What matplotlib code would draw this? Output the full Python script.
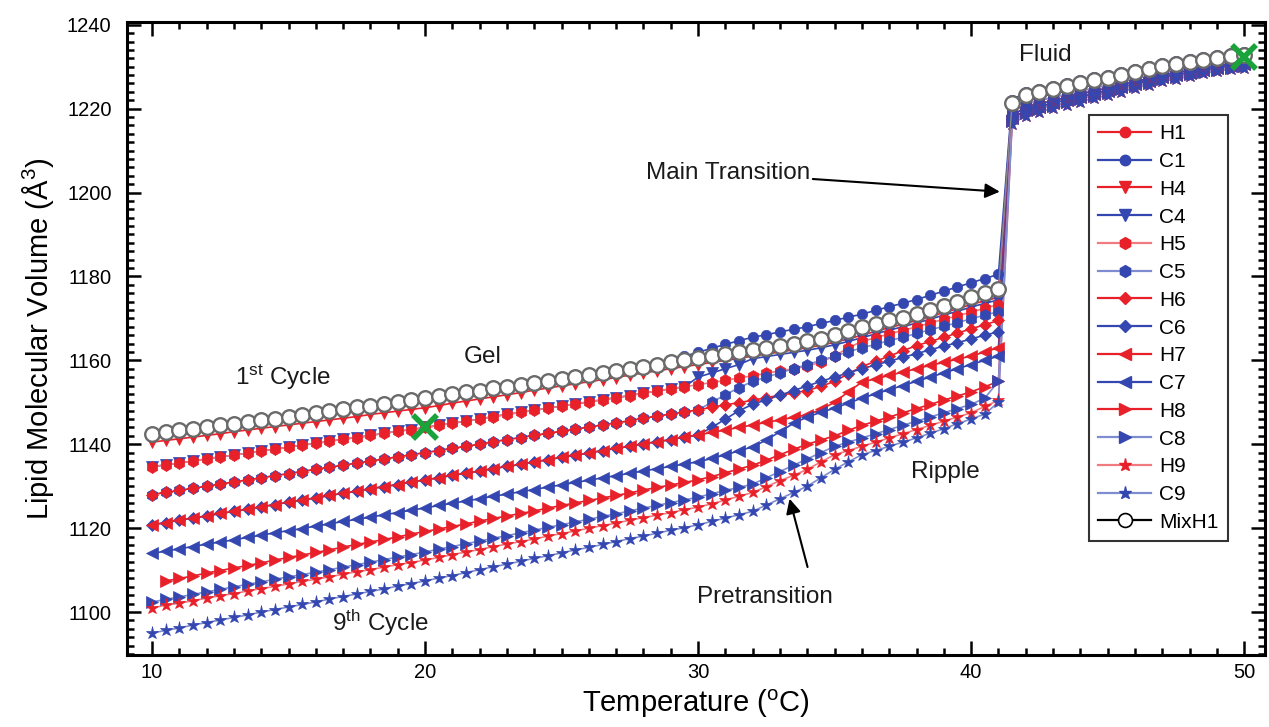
import matplotlib
matplotlib.use("Agg")
import matplotlib.pyplot as plt
from matplotlib.lines import Line2D

plt.rcParams['font.family'] = ['Liberation Sans', 'DejaVu Sans']
plt.rcParams['mathtext.fontset'] = 'custom'
plt.rcParams['mathtext.rm'] = 'Liberation Sans'
plt.rcParams['mathtext.it'] = 'Liberation Sans:italic'

# ---------------- data ----------------
gel_T = [10.0, 10.5, 11.0, 11.5, 12.0, 12.5, 13.0, 13.5, 14.0, 14.5, 15.0,
         15.5, 16.0, 16.5, 17.0, 17.5, 18.0, 18.5, 19.0, 19.5, 20.0,
         20.5, 21.0, 21.5, 22.0, 22.5, 23.0, 23.5, 24.0, 24.5, 25.0,
         25.5, 26.0, 26.5, 27.0, 27.5, 28.0, 28.5, 29.0, 29.5, 30.0,
         30.5, 31.0, 31.5, 32.0, 32.5, 33.0, 33.5, 34.0, 34.5, 35.0,
         35.5, 36.0, 36.5, 37.0, 37.5, 38.0, 38.5, 39.0, 39.5, 40.0, 40.5, 41.0]
fluid_T = [41.5, 42.0, 42.5, 43.0, 43.5, 44.0, 44.5, 45.0, 45.5, 46.0,
           46.5, 47.0, 47.5, 48.0, 48.5, 49.0, 49.5, 50.0]

mix_gel = [1142.5, 1142.9, 1143.3, 1143.7, 1144.1, 1144.5, 1144.9, 1145.3, 1145.7, 1146.1, 1146.5,
           1147.0, 1147.4, 1147.9, 1148.3, 1148.8, 1149.2, 1149.7, 1150.1, 1150.6, 1151.0,
           1151.5, 1151.9, 1152.4, 1152.8, 1153.3, 1153.7, 1154.2, 1154.6, 1155.1, 1155.5,
           1156.0, 1156.5, 1157.0, 1157.5, 1158.0, 1158.5, 1159.0, 1159.5, 1160.0, 1160.5,
           1161.0, 1161.5, 1162.0, 1162.5, 1163.0, 1163.5, 1164.0, 1164.5, 1165.2, 1166.0,
           1167.1, 1168.0, 1168.7, 1169.5, 1170.2, 1171.0, 1172.0, 1173.0, 1174.0, 1175.0, 1176.0, 1177.0]
mix_fluid = [1221.4, 1223.2, 1224.0, 1224.7, 1225.4, 1226.1, 1226.8, 1227.4, 1228.1, 1228.8,
             1229.5, 1230.2, 1230.7, 1231.2, 1231.7, 1232.1, 1232.5, 1232.8]

h1_gel = [1142.3, 1142.7, 1143.1, 1143.5, 1143.9, 1144.3, 1144.7, 1145.1, 1145.5, 1145.9, 1146.3,
          1146.8, 1147.2, 1147.7, 1148.1, 1148.6, 1149.0, 1149.5, 1149.9, 1150.4, 1150.8,
          1151.3, 1151.7, 1152.2, 1152.6, 1153.1, 1153.5, 1154.0, 1154.4, 1154.9, 1155.3,
          1155.8, 1156.3, 1156.8, 1157.3, 1157.8, 1158.3, 1158.8, 1159.3, 1159.8, 1160.3,
          1160.8, 1161.3, 1161.8, 1162.3, 1162.8, 1163.3, 1163.8, 1164.3, 1165.0, 1165.8,
          1166.9, 1167.8, 1168.5, 1169.3, 1170.0, 1170.8, 1171.8, 1172.8, 1173.8, 1174.8, 1175.8, 1176.8]
h1_fluid = [1221.2, 1223.0, 1223.8, 1224.5, 1225.2, 1225.9, 1226.6, 1227.2, 1227.9, 1228.6,
            1229.3, 1230.0, 1230.5, 1231.0, 1231.5, 1231.9, 1232.3, 1232.6]

c1_gel = [1142.5, 1142.9, 1143.3, 1143.7, 1144.1, 1144.5, 1144.9, 1145.3, 1145.7, 1146.1, 1146.5,
          1147.0, 1147.4, 1147.9, 1148.3, 1148.8, 1149.2, 1149.7, 1150.1, 1150.6, 1151.0,
          1151.5, 1151.9, 1152.4, 1152.8, 1153.3, 1153.7, 1154.2, 1154.6, 1155.1, 1155.5,
          1156.0, 1156.5, 1157.0, 1157.5, 1158.0, 1158.5, 1159.3, 1160.0, 1161.0, 1161.9,
          1162.9, 1163.8, 1164.7, 1165.5, 1166.1, 1166.8, 1167.4, 1168.0, 1168.8, 1169.5,
          1170.3, 1171.0, 1171.9, 1172.8, 1173.6, 1174.5, 1175.5, 1176.5, 1177.5, 1178.5, 1179.5, 1180.5]
c1_fluid = [1222.1, 1223.9, 1224.7, 1225.4, 1226.1, 1226.8, 1227.5, 1228.1, 1228.8, 1229.5,
            1230.2, 1230.9, 1231.4, 1231.9, 1232.4, 1232.8, 1233.2, 1233.5]

h4_gel = [1140.5, 1140.9, 1141.3, 1141.7, 1142.1, 1142.5, 1143.0, 1143.4, 1143.8, 1144.2, 1144.6,
          1145.0, 1145.4, 1145.8, 1146.2, 1146.6, 1147.1, 1147.5, 1147.9, 1148.3, 1148.7,
          1149.2, 1149.8, 1150.3, 1150.8, 1151.3, 1151.8, 1152.3, 1152.9, 1153.4, 1153.9,
          1154.4, 1154.9, 1155.4, 1155.9, 1156.5, 1157.0, 1157.5, 1158.0, 1158.5, 1159.0,
          1159.5, 1160.0, 1160.5, 1161.0, 1161.5, 1162.0, 1162.5, 1163.0, 1163.6, 1164.3,
          1165.1, 1166.0, 1166.9, 1167.8, 1168.6, 1169.5, 1170.4, 1171.4, 1172.3, 1173.3, 1174.2, 1175.0]
c4_gel = [1134.6, 1135.1, 1135.5, 1136.0, 1136.5, 1137.0, 1137.4, 1137.9, 1138.4, 1138.8, 1139.3,
          1139.8, 1140.2, 1140.7, 1141.2, 1141.6, 1142.1, 1142.6, 1143.1, 1143.5, 1144.0,
          1144.5, 1145.0, 1145.5, 1146.0, 1146.6, 1147.1, 1147.6, 1148.1, 1148.6, 1149.1,
          1149.6, 1150.1, 1150.6, 1151.1, 1151.6, 1152.2, 1152.7, 1153.2, 1153.7, 1156.0,
          1157.0, 1158.0, 1159.0, 1160.4, 1160.9, 1161.4, 1161.9, 1162.4, 1163.0, 1163.7,
          1164.5, 1165.4, 1166.3, 1167.2, 1168.0, 1168.9, 1169.8, 1170.8, 1171.7, 1172.7, 1173.6, 1174.4]
f4_fluid = [1220.1, 1221.9, 1222.8, 1223.5, 1224.2, 1225.0, 1225.7, 1226.3, 1227.0, 1227.8,
            1228.5, 1229.2, 1229.8, 1230.3, 1230.8, 1231.2, 1231.7, 1232.0]

h5_gel = [1134.6, 1135.1, 1135.5, 1136.0, 1136.5, 1137.0, 1137.4, 1137.9, 1138.4, 1138.8, 1139.3,
          1139.8, 1140.2, 1140.7, 1141.2, 1141.6, 1142.1, 1142.6, 1143.1, 1143.5, 1144.0,
          1144.5, 1145.0, 1145.5, 1146.0, 1146.6, 1147.1, 1147.6, 1148.1, 1148.6, 1149.1,
          1149.6, 1150.1, 1150.6, 1151.1, 1151.6, 1152.2, 1152.7, 1153.2, 1153.7, 1154.2,
          1154.7, 1155.2, 1155.8, 1156.3, 1156.9, 1157.5, 1158.0, 1158.6, 1159.6, 1161.0,
          1163.0, 1164.5, 1165.4, 1166.3, 1167.1, 1168.0, 1168.9, 1169.8, 1170.6, 1171.5, 1172.4, 1173.3]
c5_gel = [1128.0, 1128.5, 1129.0, 1129.5, 1130.0, 1130.5, 1131.0, 1131.5, 1132.0, 1132.5, 1133.0,
          1133.5, 1134.0, 1134.5, 1135.0, 1135.5, 1136.0, 1136.5, 1137.0, 1137.5, 1138.0,
          1138.5, 1139.0, 1139.5, 1140.0, 1140.6, 1141.1, 1141.6, 1142.1, 1142.6, 1143.1,
          1143.6, 1144.1, 1144.6, 1145.1, 1145.6, 1146.2, 1146.7, 1147.2, 1147.7, 1148.2,
          1150.0, 1151.8, 1153.5, 1155.0, 1156.0, 1157.0, 1158.0, 1159.0, 1160.0, 1161.0,
          1162.0, 1163.0, 1163.8, 1164.7, 1165.5, 1166.4, 1167.3, 1168.1, 1169.0, 1169.9, 1170.8, 1171.6]
f5_fluid = [1219.2, 1221.1, 1221.9, 1222.7, 1223.4, 1224.2, 1224.9, 1225.6, 1226.3, 1227.1,
            1227.8, 1228.6, 1229.1, 1229.7, 1230.2, 1230.7, 1231.1, 1231.5]

h6_gel = [1128.0, 1128.5, 1129.0, 1129.5, 1130.0, 1130.5, 1131.0, 1131.5, 1132.0, 1132.5, 1133.0,
          1133.5, 1134.0, 1134.5, 1135.0, 1135.5, 1136.0, 1136.5, 1137.0, 1137.5, 1138.0,
          1138.5, 1139.0, 1139.5, 1140.0, 1140.6, 1141.1, 1141.6, 1142.1, 1142.6, 1143.1,
          1143.6, 1144.1, 1144.6, 1145.1, 1145.6, 1146.2, 1146.7, 1147.2, 1147.7, 1148.2,
          1148.8, 1149.4, 1149.9, 1150.5, 1151.1, 1151.7, 1152.2, 1152.8, 1153.8, 1155.0,
          1156.8, 1158.5, 1159.8, 1161.0, 1162.3, 1163.5, 1164.5, 1165.5, 1166.5, 1167.5, 1168.5, 1169.5]
c6_gel = [1120.8, 1121.3, 1121.9, 1122.4, 1122.9, 1123.5, 1124.0, 1124.5, 1125.1, 1125.6, 1126.2,
          1126.7, 1127.2, 1127.8, 1128.3, 1128.8, 1129.4, 1129.9, 1130.4, 1131.0, 1131.5,
          1132.0, 1132.6, 1133.1, 1133.6, 1134.2, 1134.7, 1135.2, 1135.8, 1136.3, 1136.9,
          1137.4, 1137.9, 1138.5, 1139.0, 1139.5, 1140.1, 1140.6, 1141.1, 1141.7, 1142.2,
          1144.0, 1146.0, 1148.0, 1149.5, 1150.6, 1151.7, 1152.8, 1153.9, 1155.0, 1156.0,
          1157.0, 1158.0, 1158.9, 1159.8, 1160.7, 1161.6, 1162.5, 1163.4, 1164.2, 1165.1, 1166.0, 1166.8]
f6_fluid = [1218.4, 1220.3, 1221.1, 1221.9, 1222.7, 1223.5, 1224.2, 1224.9, 1225.7, 1226.4,
            1227.2, 1228.0, 1228.6, 1229.1, 1229.7, 1230.2, 1230.6, 1231.0]

h7_gel = [1120.8, 1121.3, 1121.9, 1122.4, 1122.9, 1123.5, 1124.0, 1124.5, 1125.1, 1125.6, 1126.2,
          1126.7, 1127.2, 1127.8, 1128.3, 1128.8, 1129.4, 1129.9, 1130.4, 1131.0, 1131.5,
          1132.0, 1132.6, 1133.1, 1133.6, 1134.2, 1134.7, 1135.2, 1135.8, 1136.3, 1136.9,
          1137.4, 1137.9, 1138.5, 1139.0, 1139.5, 1140.1, 1140.6, 1141.1, 1141.7, 1142.2,
          1142.8, 1143.4, 1144.0, 1144.6, 1145.2, 1145.8, 1146.4, 1147.0, 1148.3, 1150.0,
          1152.5, 1154.8, 1155.6, 1156.4, 1157.2, 1158.0, 1158.8, 1159.5, 1160.3, 1161.0, 1162.0, 1163.0]
c7_gel = [1114.0, 1114.5, 1115.1, 1115.6, 1116.2, 1116.7, 1117.2, 1117.8, 1118.3, 1118.9, 1119.4,
          1119.9, 1120.5, 1121.0, 1121.6, 1122.1, 1122.6, 1123.2, 1123.7, 1124.3, 1124.8,
          1125.4, 1125.9, 1126.5, 1127.0, 1127.6, 1128.1, 1128.7, 1129.2, 1129.8, 1130.3,
          1130.9, 1131.4, 1132.0, 1132.5, 1133.1, 1133.6, 1134.2, 1134.7, 1135.3, 1135.8,
          1136.6, 1137.5, 1138.4, 1139.4, 1141.0, 1143.0, 1145.0, 1146.5, 1147.6, 1148.6,
          1149.8, 1151.0, 1152.0, 1153.0, 1154.0, 1155.0, 1156.0, 1157.0, 1158.0, 1159.0, 1160.0, 1161.0]
f7_fluid = [1217.7, 1219.6, 1220.5, 1221.3, 1222.1, 1222.8, 1223.6, 1224.3, 1225.1, 1225.9,
            1226.7, 1227.5, 1228.1, 1228.6, 1229.2, 1229.7, 1230.2, 1230.6]

h8_gel = [1107.4, 1108.0, 1108.6, 1109.3, 1109.9, 1110.5, 1111.1, 1111.7, 1112.4, 1113.0,
          1113.6, 1114.2, 1114.8, 1115.5, 1116.1, 1116.7, 1117.3, 1117.9, 1118.6, 1119.2,
          1119.8, 1120.4, 1121.0, 1121.7, 1122.3, 1122.9, 1123.5, 1124.1, 1124.8, 1125.4,
          1126.0, 1126.6, 1127.2, 1127.8, 1128.4, 1129.1, 1129.7, 1130.3, 1130.9, 1131.5,
          1132.3, 1133.2, 1134.1, 1135.0, 1136.2, 1137.5, 1138.8, 1140.0, 1141.0, 1142.0,
          1143.3, 1144.5, 1145.5, 1146.5, 1147.5, 1148.5, 1149.5, 1150.5, 1151.5, 1152.5, 1153.7, 1155.0]
c8_gel = [1102.4, 1103.0, 1103.6, 1104.2, 1104.8, 1105.4, 1106.0, 1106.6, 1107.2, 1107.8, 1108.4,
          1108.9, 1109.5, 1110.1, 1110.7, 1111.3, 1111.9, 1112.5, 1113.1, 1113.7, 1114.3,
          1115.0, 1115.6, 1116.3, 1116.9, 1117.6, 1118.2, 1118.9, 1119.5, 1120.2, 1120.8,
          1121.5, 1122.1, 1122.8, 1123.4, 1124.1, 1124.8, 1125.4, 1126.1, 1126.7, 1127.4,
          1128.2, 1129.0, 1129.7, 1130.5, 1132.0, 1133.5, 1135.0, 1136.5, 1138.0, 1139.5,
          1140.5, 1141.5, 1142.5, 1143.5, 1144.5, 1145.5, 1146.5, 1147.5, 1148.5, 1149.5, 1151.0, 1155.0]
f8_fluid = [1217.1, 1219.0, 1219.9, 1220.7, 1221.5, 1222.3, 1223.1, 1223.8, 1224.6, 1225.4,
            1226.2, 1227.0, 1227.6, 1228.2, 1228.8, 1229.3, 1229.8, 1230.2]

h9_gel = [1101.0, 1101.6, 1102.1, 1102.7, 1103.3, 1103.9, 1104.4, 1105.0, 1105.6, 1106.1, 1106.7,
          1107.3, 1107.8, 1108.4, 1109.0, 1109.6, 1110.1, 1110.7, 1111.3, 1111.8, 1112.4,
          1113.0, 1113.7, 1114.3, 1114.9, 1115.6, 1116.2, 1116.8, 1117.4, 1118.1, 1118.7,
          1119.3, 1120.0, 1120.6, 1121.2, 1121.9, 1122.5, 1123.1, 1123.7, 1124.4, 1125.0,
          1125.8, 1126.7, 1127.6, 1128.5, 1129.9, 1131.3, 1132.6, 1134.0, 1135.8, 1137.5,
          1138.5, 1139.5, 1140.5, 1141.5, 1142.5, 1143.5, 1144.5, 1145.5, 1146.5, 1147.5, 1149.0, 1150.5]
c9_gel = [1095.0, 1095.6, 1096.2, 1096.9, 1097.5, 1098.1, 1098.7, 1099.3, 1100.0, 1100.6, 1101.2,
          1101.8, 1102.4, 1103.1, 1103.7, 1104.3, 1104.9, 1105.5, 1106.2, 1106.8, 1107.4,
          1108.1, 1108.7, 1109.4, 1110.1, 1110.8, 1111.4, 1112.1, 1112.8, 1113.4, 1114.1,
          1114.8, 1115.4, 1116.1, 1116.8, 1117.5, 1118.1, 1118.8, 1119.5, 1120.1, 1120.8,
          1121.6, 1122.4, 1123.2, 1124.0, 1125.5, 1127.0, 1128.5, 1130.0, 1132.0, 1134.0,
          1135.8, 1137.5, 1138.5, 1139.5, 1140.5, 1141.5, 1142.6, 1143.7, 1144.9, 1146.0, 1147.2, 1150.0]
f9_fluid = [1216.4, 1218.3, 1219.2, 1220.1, 1220.9, 1221.7, 1222.5, 1223.2, 1224.0, 1224.9,
            1225.7, 1226.5, 1227.1, 1227.7, 1228.4, 1228.9, 1229.4, 1229.8]

x_marks_T = [20, 50]
x_marks_V = [1144.0, 1232.4]

# ---------------- styles ----------------
RED = '#e8202a'
BLUE = '#3447b0'
LRED = '#f07a80'
LBLUE = '#7f8cd0'

series = [
    # label, T, V, marker, marker color, line color, msize
    ('H1', gel_T + fluid_T, h1_gel + h1_fluid, 'o', RED, RED, 7.5),
    ('C1', gel_T + fluid_T, c1_gel + c1_fluid, 'o', BLUE, BLUE, 7.5),
    ('H4', gel_T + fluid_T, h4_gel + f4_fluid, 'v', RED, RED, 8.5),
    ('C4', gel_T + fluid_T, c4_gel + f4_fluid, 'v', BLUE, BLUE, 8.5),
    ('H5', gel_T + fluid_T, h5_gel + f5_fluid, 'h', RED, LRED, 8.5),
    ('C5', gel_T + fluid_T, c5_gel + f5_fluid, 'h', BLUE, LBLUE, 8.5),
    ('H6', gel_T + fluid_T, h6_gel + f6_fluid, 'D', RED, RED, 6.5),
    ('C6', gel_T + fluid_T, c6_gel + f6_fluid, 'D', BLUE, BLUE, 6.5),
    ('H7', gel_T + fluid_T, h7_gel + f7_fluid, '<', RED, RED, 8.5),
    ('C7', gel_T + fluid_T, c7_gel + f7_fluid, '<', BLUE, BLUE, 8.5),
    ('H8', gel_T[1:] + fluid_T, h8_gel + f8_fluid, '>', RED, RED, 8.5),
    ('C8', gel_T + fluid_T, c8_gel + f8_fluid, '>', BLUE, LBLUE, 8.5),
    ('H9', gel_T + fluid_T, h9_gel + f9_fluid, '*', RED, LRED, 9.5),
    ('C9', gel_T + fluid_T, c9_gel + f9_fluid, '*', BLUE, LBLUE, 9.5),
]

fig = plt.figure(figsize=(12.69, 7.27), dpi=100)
ax = fig.add_axes([0.100, 0.099, 0.897, 0.871])

handles = []
for lab, T, V, mk, mc, lc, ms in series:
    ax.plot(T, V, '-', color=lc, lw=1.2, zorder=2)
    ax.plot(T, V, linestyle='none', marker=mk, ms=ms, mfc=mc, mec=mc, mew=0.5, zorder=3)
    handles.append(Line2D([], [], color=lc, lw=1.6, marker=mk, ms=ms, mfc=mc, mec=mc, label=lab))

ax.plot(gel_T + fluid_T, mix_gel + mix_fluid, '-', color='#888888', lw=1.0, zorder=4)
ax.plot(gel_T + fluid_T, mix_gel + mix_fluid, linestyle='none', marker='o', ms=10.5,
        mfc='white', mec='#6a6a6a', mew=1.7, zorder=5)
handles.append(Line2D([], [], color='black', lw=1.6, marker='o', ms=10, mfc='white',
                      mec='black', mew=1.2, label='MixH1'))

ax.plot(x_marks_T, x_marks_V, linestyle='none', marker='x', ms=17, mew=4,
        color='#1aa33a', zorder=6)

ax.set_xlim(9.08, 50.77)
ax.set_ylim(1089.75, 1240.7)
ax.set_xticks([10, 20, 30, 40, 50])
ax.set_yticks(list(range(1100, 1241, 20)))
ax.set_xticks([t for t in range(10, 51) if t % 10], minor=True)
ax.set_yticks([v for v in range(1090, 1241, 2) if v % 20], minor=True)
ax.tick_params(which='both', direction='in', top=True, right=True, width=1.8, labelsize=14.5)
ax.tick_params(which='major', length=10)
ax.tick_params(which='minor', length=5)
ax.tick_params(axis='x', which='major', pad=6)
ax.tick_params(axis='y', which='major', pad=11)
for s in ax.spines.values():
    s.set_linewidth(2.2)

ax.set_xlabel(r'Temperature ($^{\mathrm{o}}$C)', fontsize=21, labelpad=4)
ax.set_ylabel(r'Lipid Molecular Volume (Å$^{3}$)', fontsize=21, labelpad=8)

tk = dict(fontsize=17.5, color='#1a1a1a', ha='center', va='center')
ax.text(14.8, 1156.0, r'1$^{\mathrm{st}}$ Cycle', **tk)
ax.text(22.1, 1160.8, 'Gel', **tk)
ax.text(42.7, 1232.9, 'Fluid', **tk)
ax.text(39.05, 1133.3, 'Ripple', **tk)
ax.text(18.35, 1097.5, r'9$^{\mathrm{th}}$ Cycle', **tk)
ax.annotate('Main Transition', xy=(41.05, 1200.2), xytext=(34.1, 1204.6),
            fontsize=17.5, color='#1a1a1a', ha='right', va='center',
            arrowprops=dict(arrowstyle='-|>', color='black', lw=1.5, mutation_scale=22,
                            shrinkA=0, shrinkB=0))
ax.annotate('Pretransition', xy=(33.35, 1127.0), xytext=(32.45, 1103.6),
            fontsize=17.5, color='#1a1a1a', ha='center', va='center',
            arrowprops=dict(arrowstyle='-|>', color='black', lw=1.5, mutation_scale=22,
                            shrinkA=12, shrinkB=0, relpos=(0.85, 1.0)))

leg = ax.legend(handles=handles, loc='upper right', bbox_to_anchor=(0.967, 0.853),
                fontsize=15, frameon=True, fancybox=False, edgecolor='black',
                handlelength=2.5, handletextpad=0.4, labelspacing=0.42, borderpad=0.45,
                borderaxespad=0)
leg.get_frame().set_linewidth(1.5)
leg.set_zorder(10)

fig.savefig('out.png', dpi=100)
